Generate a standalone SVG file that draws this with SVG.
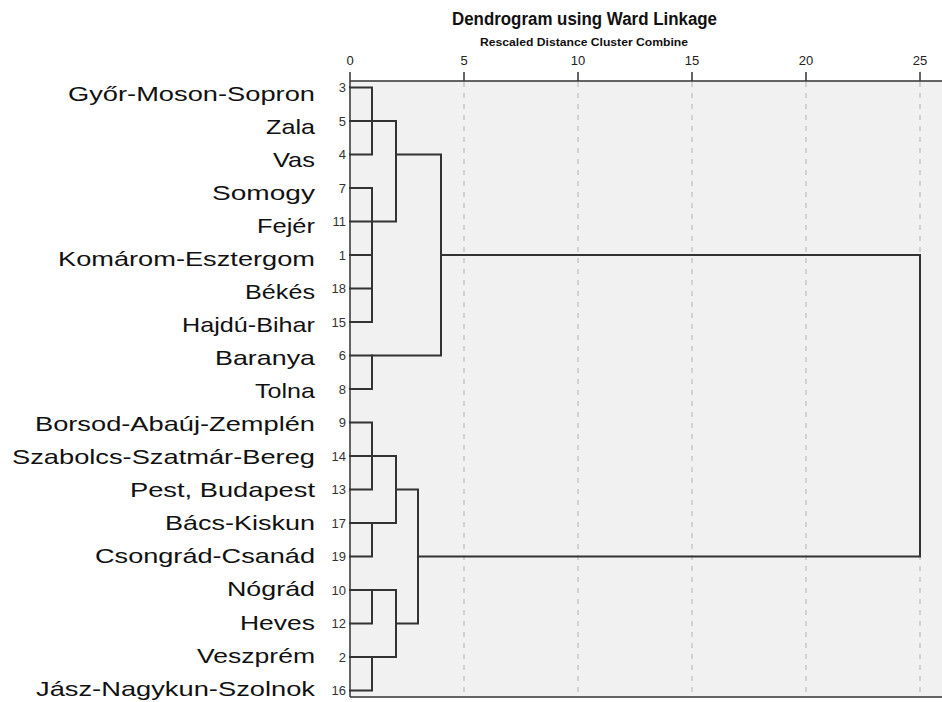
<svg xmlns="http://www.w3.org/2000/svg" width="942" height="702" viewBox="0 0 942 702">
<style>
.title{font-family:"Liberation Sans",Arial,sans-serif;font-weight:bold;fill:#111}
.name{font-family:"Liberation Sans",Arial,sans-serif;font-size:21px;fill:#111;text-anchor:end}
.num{font-family:"Liberation Sans",Arial,sans-serif;font-size:13px;fill:#333;text-anchor:end}
.tick{font-family:"Liberation Sans",Arial,sans-serif;font-size:13px;fill:#222;text-anchor:middle}
.grid{stroke:#c8c8c8;stroke-width:1.5;stroke-dasharray:5 6;fill:none}
.axis{stroke:#333;stroke-width:1.5;fill:none}
.link{stroke:#333;stroke-width:2;fill:none;stroke-linecap:square}
</style>
<rect x="0" y="0" width="942" height="702" fill="#ffffff"/>
<rect x="350" y="81" width="592" height="616" fill="#f1f1f1"/>
<text class="title" x="452" y="25" font-size="18" textLength="265" lengthAdjust="spacingAndGlyphs">Dendrogram using Ward Linkage</text>
<text class="title" x="480" y="46" font-size="11.5" textLength="208" lengthAdjust="spacingAndGlyphs">Rescaled Distance Cluster Combine</text>
<g id="axis">
<path class="grid" d="M464 82V697M578 82V697M692 82V697M806 82V697M920 82V697"/>
<path class="axis" d="M350 81H942M350 72V697M350 697H942M464 72V81M578 72V81M692 72V81M806 72V81M920 72V81"/>
<text class="tick" x="350" y="65">0</text>
<text class="tick" x="464" y="65">5</text>
<text class="tick" x="578" y="65">10</text>
<text class="tick" x="692" y="65">15</text>
<text class="tick" x="806" y="65">20</text>
<text class="tick" x="920" y="65">25</text>
</g>
<g id="leaf-3"><text class="name" x="315" y="100.5" textLength="247" lengthAdjust="spacingAndGlyphs">Győr-Moson-Sopron</text><text class="num" x="346" y="92">3</text></g>
<g id="leaf-5"><text class="name" x="315" y="133.6" textLength="49" lengthAdjust="spacingAndGlyphs">Zala</text><text class="num" x="346" y="125.5">5</text></g>
<g id="leaf-4"><text class="name" x="315" y="166.6" textLength="42" lengthAdjust="spacingAndGlyphs">Vas</text><text class="num" x="346" y="159">4</text></g>
<g id="leaf-7"><text class="name" x="315" y="199.7" textLength="103" lengthAdjust="spacingAndGlyphs">Somogy</text><text class="num" x="346" y="192.5">7</text></g>
<g id="leaf-11"><text class="name" x="315" y="232.7" textLength="58" lengthAdjust="spacingAndGlyphs">Fejér</text><text class="num" x="346" y="226">11</text></g>
<g id="leaf-1"><text class="name" x="315" y="265.8" textLength="257" lengthAdjust="spacingAndGlyphs">Komárom-Esztergom</text><text class="num" x="346" y="259.5">1</text></g>
<g id="leaf-18"><text class="name" x="315" y="298.9" textLength="70" lengthAdjust="spacingAndGlyphs">Békés</text><text class="num" x="346" y="293">18</text></g>
<g id="leaf-15"><text class="name" x="315" y="331.9" textLength="133" lengthAdjust="spacingAndGlyphs">Hajdú-Bihar</text><text class="num" x="346" y="326.5">15</text></g>
<g id="leaf-6"><text class="name" x="315" y="365" textLength="100" lengthAdjust="spacingAndGlyphs">Baranya</text><text class="num" x="346" y="360">6</text></g>
<g id="leaf-8"><text class="name" x="315" y="398" textLength="60" lengthAdjust="spacingAndGlyphs">Tolna</text><text class="num" x="346" y="393.5">8</text></g>
<g id="leaf-9"><text class="name" x="315" y="431.1" textLength="280" lengthAdjust="spacingAndGlyphs">Borsod-Abaúj-Zemplén</text><text class="num" x="346" y="427">9</text></g>
<g id="leaf-14"><text class="name" x="315" y="464.2" textLength="303" lengthAdjust="spacingAndGlyphs">Szabolcs-Szatmár-Bereg</text><text class="num" x="346" y="460.5">14</text></g>
<g id="leaf-13"><text class="name" x="315" y="497.2" textLength="185" lengthAdjust="spacingAndGlyphs">Pest, Budapest</text><text class="num" x="346" y="494">13</text></g>
<g id="leaf-17"><text class="name" x="315" y="530.3" textLength="150" lengthAdjust="spacingAndGlyphs">Bács-Kiskun</text><text class="num" x="346" y="527.5">17</text></g>
<g id="leaf-19"><text class="name" x="315" y="563.3" textLength="220" lengthAdjust="spacingAndGlyphs">Csongrád-Csanád</text><text class="num" x="346" y="561">19</text></g>
<g id="leaf-10"><text class="name" x="315" y="596.4" textLength="88" lengthAdjust="spacingAndGlyphs">Nógrád</text><text class="num" x="346" y="594.5">10</text></g>
<g id="leaf-12"><text class="name" x="315" y="629.5" textLength="75" lengthAdjust="spacingAndGlyphs">Heves</text><text class="num" x="346" y="628">12</text></g>
<g id="leaf-2"><text class="name" x="315" y="662.5" textLength="118" lengthAdjust="spacingAndGlyphs">Veszprém</text><text class="num" x="346" y="661.5">2</text></g>
<g id="leaf-16"><text class="name" x="315" y="695.5" textLength="279" lengthAdjust="spacingAndGlyphs">Jász-Nagykun-Szolnok</text><text class="num" x="346" y="695">16</text></g>
<g id="connectors">
<path class="link" d="M350 87.5H372V154.5H350"/>
<path class="link" d="M350 121H396V221.5H350"/>
<path class="link" d="M350 188H372V322H350M350 255H372M350 288.5H372"/>
<path class="link" d="M396 154.5H441V355.5H350"/>
<path class="link" d="M372 355.5V389H350"/>
<path class="link" d="M441 255H920V556.5H418"/>
<path class="link" d="M350 422.5H372V489.5H350"/>
<path class="link" d="M350 456H396V523H350"/>
<path class="link" d="M372 523V556.5H350"/>
<path class="link" d="M396 489.5H418V623.5H396"/>
<path class="link" d="M350 590H396V657H350"/>
<path class="link" d="M372 590V623.5H350"/>
<path class="link" d="M372 657V690.5H350"/>
</g>
</svg>
